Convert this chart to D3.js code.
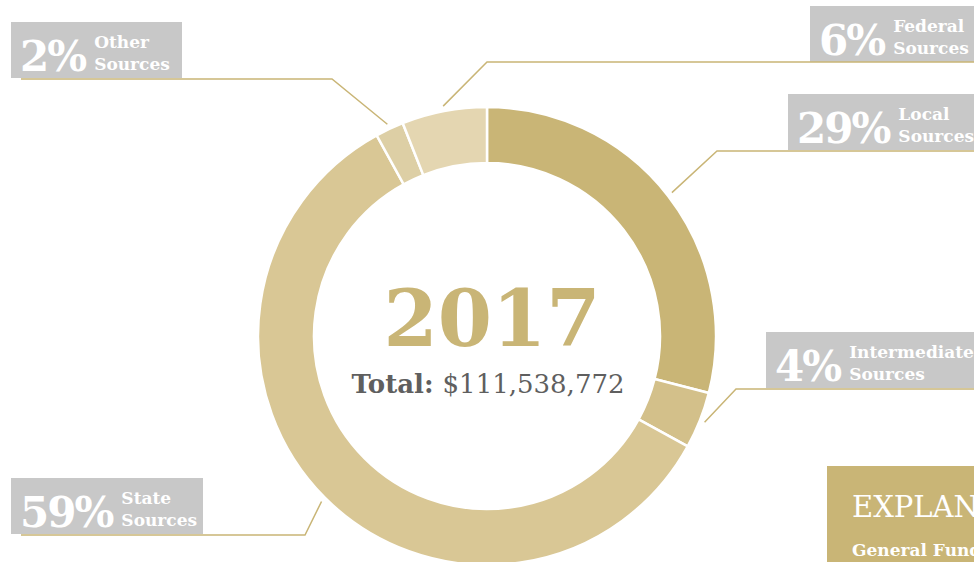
<!DOCTYPE html>
<html><head><meta charset="utf-8">
<script src="https://cdn.jsdelivr.net/npm/d3@7"></script>
<style>html,body{margin:0;padding:0;background:#fff;overflow:hidden}</style>
</head><body>
<svg id="c" width="974" height="562"></svg>
<script>
const categories = ["Local", "Intermediate", "State", "Other", "Federal"];
const percents = [29, 4, 59, 2, 6];
const sliceColors = ["#c9b576", "#d3c08a", "#d9c795", "#ddcfa5", "#e4d6b1"];
const yearLabel = "2017";
const totalLabel = "$111,538,772";

const svg = d3.select("#c");
const cx = 487, cy = 336, R = 229, r0 = 173;
const gold = "#c9b576";

const pie = d3.pie().sort(null).value(d => d.v).startAngle(0).endAngle(2 * Math.PI);
const data = pie(categories.map((c, i) => ({c, v: percents[i], col: sliceColors[i]})));
const arc = d3.arc().innerRadius(r0).outerRadius(R);

const g = svg.append("g").attr("transform", `translate(${cx},${cy})`);
g.selectAll("path").data(data).join("path")
  .attr("d", arc).attr("fill", d => d.data.col)
  .attr("stroke", "#fff").attr("stroke-width", 2.5);

// label layout: box rect, leader elbow x, horizontal leader y and far end x
const layout = {
  Other:        {bx: 11,  by: 22,  bw: 171, ex: 332, ly: 79,  lx: 21},
  Federal:      {bx: 810, by: 6,   bw: 164, ex: 487, ly: 62,  lx: 974},
  Local:        {bx: 788, by: 94,  bw: 186, ex: 717, ly: 151, lx: 974},
  Intermediate: {bx: 766, by: 332, bw: 208, ex: 736, ly: 389, lx: 974},
  State:        {bx: 11,  by: 478, bw: 192, ex: 305, ly: 535, lx: 21}
};
const bh = 56;

data.forEach(d => {
  const L = layout[d.data.c];
  const a = (d.startAngle + d.endAngle) / 2;
  const rr = R + 5;
  const sx = cx + rr * Math.sin(a), sy = cy - rr * Math.cos(a);
  svg.append("rect").attr("x", L.bx).attr("y", L.by).attr("width", L.bw).attr("height", bh).attr("fill", "#c8c8c8");
  svg.append("polyline").attr("points", `${sx},${sy} ${L.ex},${L.ly} ${L.lx},${L.ly}`)
    .attr("fill", "none").attr("stroke", gold).attr("stroke-width", 1.5);
  const t = svg.append("text").attr("x", L.bx + 9).attr("y", L.by + 49)
    .attr("fill", "#fff").attr("font-family", "DejaVu Serif").attr("font-weight", "bold")
    .attr("font-size", 42).attr("letter-spacing", -2).text(d.data.v + "%");
  const w = t.node().getComputedTextLength();
  const tx = L.bx + 9 + w + 9;
  svg.append("text").attr("x", tx).attr("y", L.by + 26).attr("fill", "#fff")
    .attr("font-family", "DejaVu Serif").attr("font-weight", "bold").attr("font-size", 17).text(d.data.c);
  svg.append("text").attr("x", tx).attr("y", L.by + 48).attr("fill", "#fff")
    .attr("font-family", "DejaVu Serif").attr("font-weight", "bold").attr("font-size", 17).text("Sources");
});

// center text
svg.append("text").attr("x", cx + 5).attr("y", 346).attr("text-anchor", "middle")
  .attr("fill", gold).attr("font-family", "DejaVu Serif").attr("font-weight", "bold")
  .attr("font-size", 78).attr("letter-spacing", 0).text(yearLabel);
const tot = svg.append("text").attr("x", cx + 1).attr("y", 393).attr("text-anchor", "middle")
  .attr("fill", "#5f5f5f").attr("font-family", "DejaVu Serif").attr("font-size", 26);
tot.append("tspan").attr("font-weight", "bold").text("Total: ");
tot.append("tspan").text(totalLabel);

// explanation panel (cropped at the page edge, as in the reference)
svg.append("rect").attr("x", 827).attr("y", 466).attr("width", 147).attr("height", 96).attr("fill", gold);
svg.append("text").attr("x", 852).attr("y", 517).attr("fill", "#fff")
  .attr("font-family", "DejaVu Serif").attr("font-size", 29).text("EXPLANATION");
svg.append("text").attr("x", 852).attr("y", 556).attr("fill", "#fff")
  .attr("font-family", "DejaVu Serif").attr("font-weight", "bold").attr("font-size", 17).text("General Fund");
</script>
</body></html>
